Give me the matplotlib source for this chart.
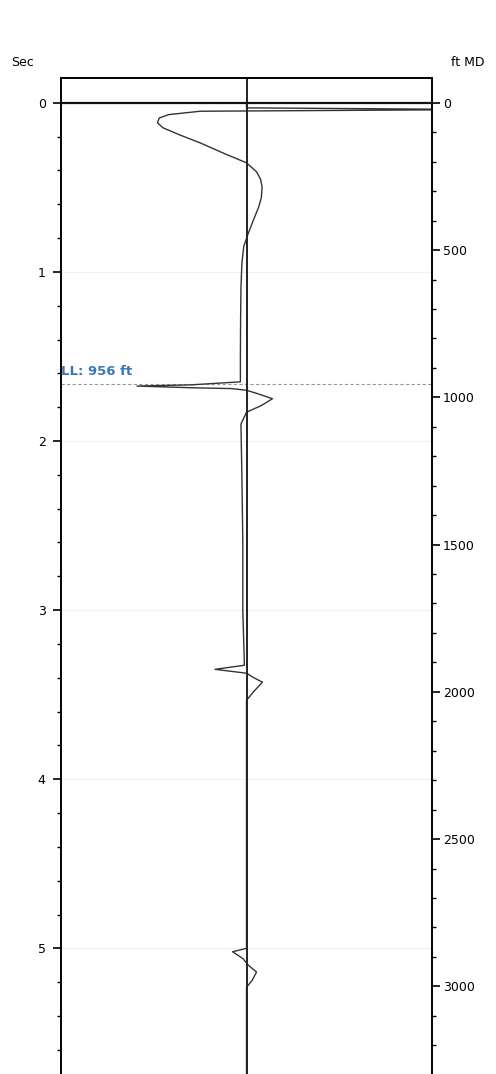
import matplotlib
matplotlib.use("Agg")
from matplotlib import pyplot as plt
from matplotlib.ticker import MultipleLocator

# trace: time (sec) vs amplitude (centre = 0, edges = +/-1)
trace_sec = [0.0, 0.03, 0.04, 0.05, 0.07, 0.09, 0.118, 0.148, 0.19, 0.237, 0.30,
             0.355, 0.408, 0.45, 0.497, 0.56, 0.615, 0.70, 0.77, 0.85, 0.95,
             1.10, 1.30, 1.50, 1.65, 1.668, 1.675, 1.685, 1.69, 1.70, 1.72,
             1.75, 1.79, 1.83, 1.90, 2.20, 2.60, 3.00, 3.30, 3.326, 3.35,
             3.373, 3.40, 3.426, 3.48, 3.533, 3.80, 4.40, 5.00, 5.02, 5.06,
             5.10, 5.14, 5.19, 5.23, 5.50, 5.80]
trace_amp = [0.0, 0.0, 1.3, -0.25, -0.42, -0.47, -0.48, -0.45, -0.36, -0.25, -0.12,
             0.0, 0.054, 0.075, 0.084, 0.08, 0.066, 0.035, 0.01, -0.015, -0.025,
             -0.03, -0.032, -0.033, -0.033, -0.3, -0.59, -0.3, -0.08, 0.0, 0.06,
             0.14, 0.08, 0.0, -0.03, -0.025, -0.02, -0.02, -0.012, -0.012, -0.17,
             0.0, 0.04, 0.086, 0.04, 0.0, 0.0, 0.0, 0.0, -0.075, -0.02,
             0.01, 0.054, 0.03, 0.0, 0.0, 0.0]

ll_ft = 956
ft_per_sec = 574.2
sec_ticks = [0, 1, 2, 3, 4, 5]
ft_ticks = [0, 500, 1000, 1500, 2000, 2500, 3000]

fig = plt.figure(figsize=(4.96, 10.74), dpi=100)
ax = fig.add_axes([0.123, -0.006, 0.748, 0.9336])

ax.plot(trace_amp, trace_sec, color='#333333', lw=1.0, zorder=3)
ax.axvline(0, color='#222222', lw=1.4, zorder=4)
ax.axhline(0, color='#111111', lw=1.6, zorder=4)

ll_sec = ll_ft / ft_per_sec
ax.axhline(ll_sec, color='#999999', lw=0.8, ls=(0, (3, 2)), zorder=2)
ax.text(-1.0, ll_sec - 0.04, 'LL: 956 ft', color='#3a78b5', fontsize=9.5,
        fontweight='bold', va='bottom', ha='left')

for s in sec_ticks[1:]:
    ax.axhline(s, color='#f0f0f0', lw=0.8, zorder=1)

ax.set_xlim(-1, 1)
ax.set_ylim(5.781, -0.148)
ax.set_xticks([])
ax.set_yticks(sec_ticks)
ax.yaxis.set_minor_locator(MultipleLocator(0.2))
ax.tick_params(axis='y', which='major', length=6, width=1.2, labelsize=9, pad=5)
ax.tick_params(axis='y', which='minor', length=3, width=1.0)
for sp in ax.spines.values():
    sp.set_linewidth(1.2)
ax.spines['bottom'].set_visible(False)

ax2 = ax.twinx()
ax2.set_ylim(5.781 * ft_per_sec, -0.148 * ft_per_sec)
ax2.set_yticks(ft_ticks)
ax2.yaxis.set_minor_locator(MultipleLocator(100))
ax2.tick_params(axis='y', which='major', length=6, width=1.2, labelsize=9, pad=2)
ax2.tick_params(axis='y', which='minor', length=3, width=1.0)
ax2.spines['bottom'].set_visible(False)
for sp in ax2.spines.values():
    sp.set_linewidth(1.2)

fig.text(0.022, 0.942, 'Sec', fontsize=9, va='center', ha='left')
fig.text(0.91, 0.942, 'ft MD', fontsize=9, va='center', ha='left')

fig.savefig('out.png', dpi=100)
